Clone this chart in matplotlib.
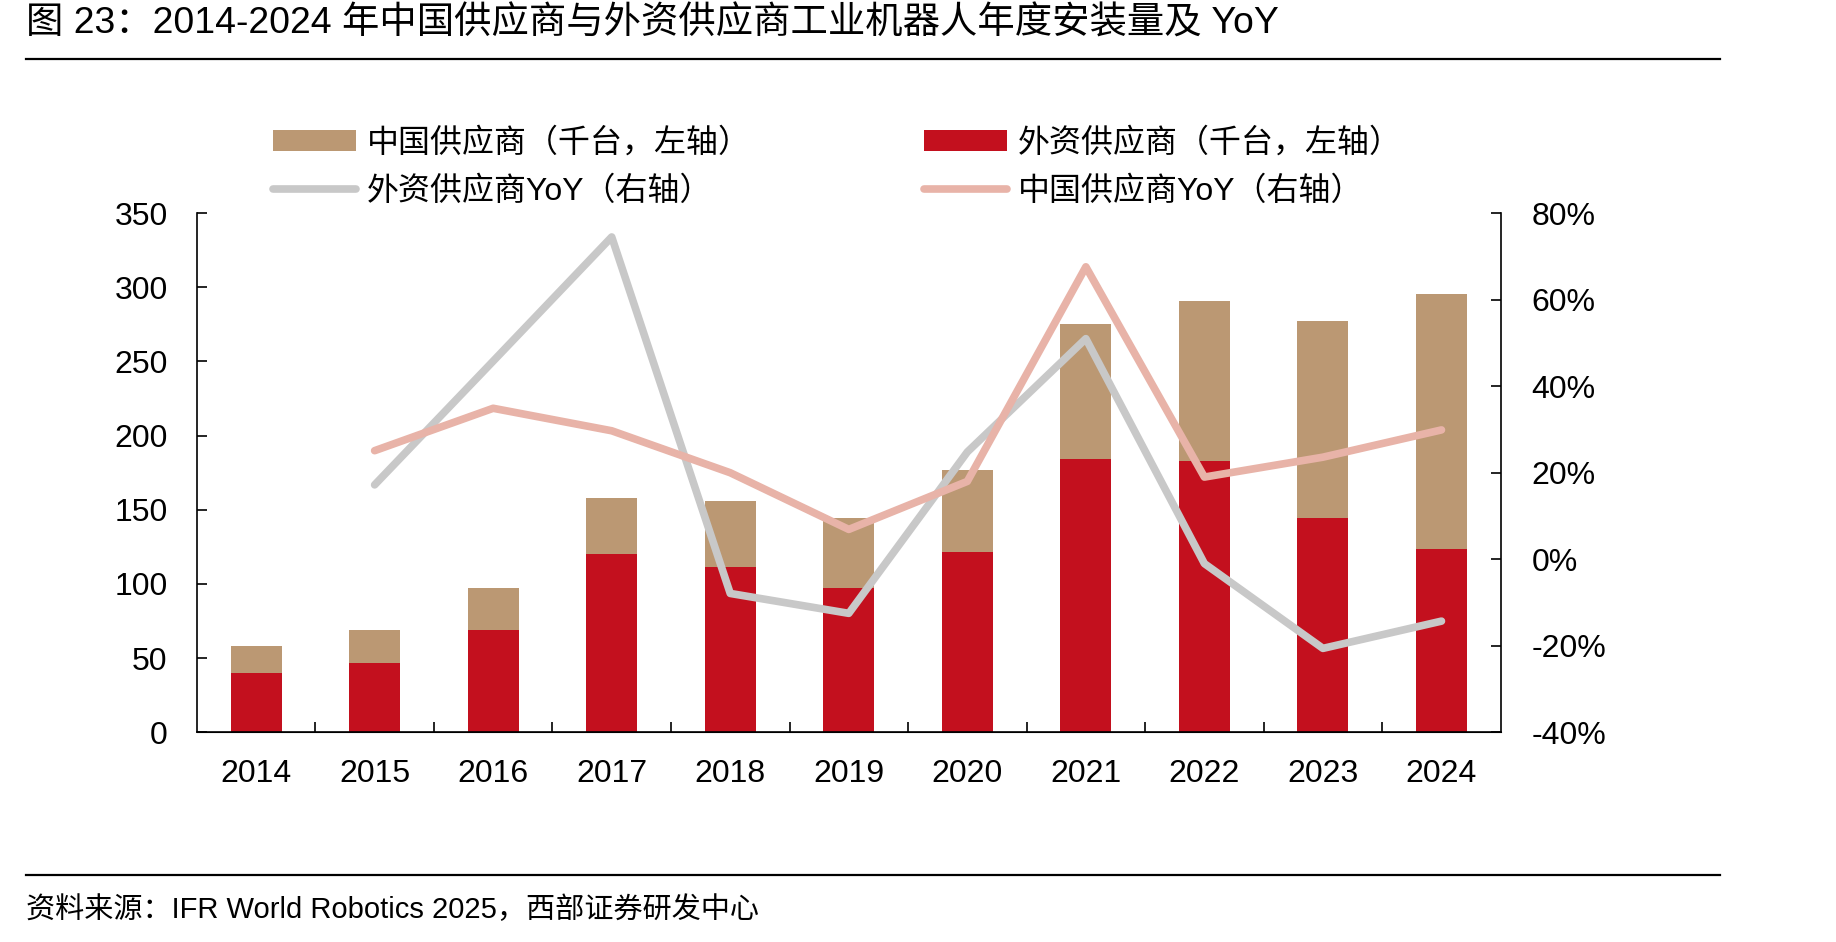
import numpy as np
import matplotlib.pyplot as plt
from matplotlib.lines import Line2D
from matplotlib.patches import Patch
from matplotlib.ticker import PercentFormatter

plt.rcParams['font.family'] = ['Liberation Sans', 'Noto Sans CJK SC']
plt.rcParams['axes.unicode_minus'] = False

# 数据 (千台, %)
years = ['2014', '2015', '2016', '2017', '2018', '2019', '2020', '2021', '2022', '2023', '2024']
foreign = [40.0, 46.6, 68.7, 120.4, 111.7, 97.6, 121.9, 184.0, 182.8, 144.4, 123.7]
chinese = [17.9, 22.1, 28.9, 37.4, 44.2, 46.8, 54.8, 91.2, 108.0, 132.9, 171.8]
foreign_yoy = [np.nan, 17.2, 45.8, 74.5, -7.9, -12.5, 24.8, 51.0, -1.0, -20.6, -14.3]
chinese_yoy = [np.nan, 25.1, 34.9, 29.7, 20.0, 6.9, 18.0, 67.6, 19.0, 23.6, 29.9]

c_red = '#C3101E'
c_tan = '#BB9873'
c_gray = '#C8C8C8'
c_pink = '#E8B3A8'

fig = plt.figure(figsize=(18.36, 9.42), dpi=100)
ax = fig.add_axes([0.1072, 0.2226, 0.7102, 0.5511])

x = np.arange(len(years))
ax.bar(x, foreign, 0.43, color=c_red, linewidth=0)
ax.bar(x, chinese, 0.43, bottom=foreign, color=c_tan, linewidth=0)
ax.set_xlim(-0.5, len(years) - 0.5)
ax.set_ylim(0, 350)
ax.set_yticks(np.arange(0, 351, 50))
ax.set_xticks(x)
ax.set_xticklabels(years)
ax.set_xticks(np.arange(0.5, len(years) - 1, 1), minor=True)
ax.tick_params(axis='y', direction='in', length=7, width=1.2, pad=21, labelsize=23)
ax.tick_params(axis='x', which='major', length=0, pad=19, labelsize=23)
ax.tick_params(axis='x', which='minor', direction='in', length=7, width=1.2)
for s in ['top', 'right']:
    ax.spines[s].set_visible(False)
for s in ['left', 'bottom']:
    ax.spines[s].set_linewidth(1.2)

ax2 = ax.twinx()
ax2.plot(x, np.array(foreign_yoy) / 100, color=c_gray, lw=5.5, solid_capstyle='round')
ax2.plot(x, np.array(chinese_yoy) / 100, color=c_pink, lw=5.5, solid_capstyle='round')
ax2.set_ylim(-0.4, 0.8)
ax2.set_yticks(np.arange(-0.4, 0.81, 0.2))
ax2.yaxis.set_major_formatter(PercentFormatter(1.0, decimals=0))
ax2.tick_params(axis='y', direction='in', length=7, width=1.2, pad=22, labelsize=23)
for s in ['top', 'left']:
    ax2.spines[s].set_visible(False)
ax2.spines['right'].set_linewidth(1.2)

# 图例
handles = [
    Patch(facecolor=c_tan, edgecolor='none'),
    Line2D([], [], color=c_gray, lw=5.5, solid_capstyle='round'),
    Patch(facecolor=c_red, edgecolor='none'),
    Line2D([], [], color=c_pink, lw=5.5, solid_capstyle='round'),
]
labels = ['中国供应商（千台，左轴）', '外资供应商YoY（右轴）',
          '外资供应商（千台，左轴）', '中国供应商YoY（右轴）']
fig.legend(handles, labels, ncol=2, loc='upper left',
           bbox_to_anchor=(273 / 1836, 1 - 128 / 942), frameon=False,
           fontsize=23, handlelength=2.6, handleheight=0.65, handletextpad=0.35,
           columnspacing=5.4, labelspacing=0.56, borderpad=0, borderaxespad=0)

# 标题与来源
fig.text(26 / 1836, 1 - 24 / 942, '图 23：2014-2024 年中国供应商与外资供应商工业机器人年度安装量及 YoY',
         fontsize=26.9, ha='left', va='center')
fig.add_artist(Line2D([26 / 1836, 1720 / 1836], [1 - 58.6 / 942] * 2, color='black', lw=1.6))
fig.add_artist(Line2D([26 / 1836, 1720 / 1836], [1 - 875 / 942] * 2, color='black', lw=1.6))
fig.text(26 / 1836, 1 - 910 / 942, '资料来源：IFR World Robotics 2025，西部证券研发中心',
         fontsize=21, ha='left', va='center')

fig.savefig('out.png', dpi=100)
